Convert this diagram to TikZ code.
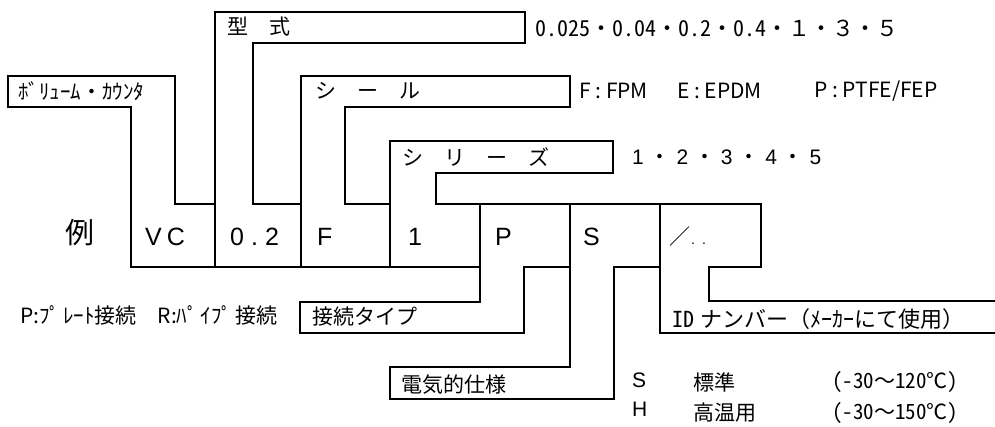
\documentclass[tikz,border=0pt]{standalone}
\usepackage{fontspec}
\setmainfont{Noto Sans CJK JP}
\newfontfamily\jpf{Noto Sans CJK JP}
\newfontfamily\jph[CharacterWidth=Half]{Noto Sans CJK JP}
\newfontfamily\hvf{Liberation Sans}
\newcommand\md{{\jpf ・}}
\begin{document}
\begin{tikzpicture}[x=1pt,y=-1pt,
  ln/.style={line width=2.8pt,line join=miter,line cap=rect},
  jt/.style={anchor=west,inner sep=0pt,font=\jpf\fontsize{21}{21}\selectfont},
  ht/.style={anchor=west,inner sep=0pt,font=\hvf\fontsize{21}{21}\selectfont},
  ct/.style={anchor=west,inner sep=0pt,font=\hvf\fontsize{25}{25}\selectfont}]
\useasboundingbox (0,0) rectangle (995,426);
% frames
\draw[ln] (131,267) -- (131,107) -- (8,107) -- (8,76) -- (175,76) -- (175,204) -- (215,204);
\draw[ln] (215,267) -- (215,12) -- (525,12) -- (525,43) -- (253,43) -- (253,204) -- (301,204);
\draw[ln] (301,267) -- (301,76) -- (570,76) -- (570,107) -- (345,107) -- (345,204) -- (390,204);
\draw[ln] (390,267) -- (390,141) -- (613,141) -- (613,173) -- (436,173) -- (436,204) -- (761,204) -- (761,267) -- (709,267) -- (709,301) -- (995,301);
\draw[ln] (131,267) -- (480,267);
\draw[ln] (480,204) -- (480,302) -- (300,302) -- (300,333) -- (524,333) -- (524,267) -- (570,267);
\draw[ln] (570,204) -- (570,367) -- (390,367) -- (390,399) -- (614,399) -- (614,267) -- (660,267);
\draw[ln] (660,204) -- (660,333) -- (995,333);
% labels
\node[jt] (vol) at (18,91) {ﾎﾞﾘｭｰﾑ・ｶｳﾝﾀ};
\node[jt] (kata) at (227,27) {型　式};
\node[jt,font=\jpf\fontsize{22}{22}\selectfont] (katav) at (535,28) {{\jph 0.025}・{\jph 0.04}・{\jph 0.2}・{\jph 0.4}・１・３・５};
\node[jt] (seal) at (315,91) {シ　ー　ル};
\node[jt] (sealf) at (579,91) {F : FPM};
\node[jt] (seale) at (677,91) {E : EPDM};
\node[jt] (sealp) at (814,91) {P : PTFE/FEP};
\node[jt] (ser) at (402,157) {シ　リ　ー　ズ};
\node[ht] (serv) at (632,157) {1 \md{} 2 \md{} 3 \md{} 4 \md{} 5};
\node[jt,font=\jpf\fontsize{29}{29}\selectfont] (ex) at (65,233) {例};
\node[ct] (cvc) at (145,237) {V\hspace{5pt}C};
\node[ct] (c02) at (230,237) {0\hspace{7pt}.\hspace{7pt}2};
\node[ct] (cf) at (317,237) {F};
\node[ct] (c1) at (408,237) {1};
\node[ct] (cp) at (495,237) {P};
\node[ct] (cs) at (583,237) {S};
\node[ct] (csl) at (669,237) {{\jpf\fontsize{21}{21}\selectfont ／}\hspace{1pt}{\fontsize{14}{14}\selectfont .\hspace{7pt}.}};
\node[jt] (ptype) at (20,315) {P:ﾌﾟ\hspace{3pt}ﾚｰﾄ接続　R:ﾊﾟ\hspace{3pt}ｲﾌﾟ\hspace{3pt}接続};
\node[jt] (conn) at (312,317) {接続タイプ};
\node[jt] (elec) at (401,385) {電気的仕様};
\node[jt,font=\jpf\fontsize{22}{22}\selectfont] (idl) at (672,319) {{\jph ID}\hspace{6pt}ナンバー（ﾒｰｶｰにて使用）};
\node[ht] (ss) at (632,380) {S};
\node[ht] (sh) at (632,409) {H};
\node[jt] (std) at (693,382) {標準};
\node[jt] (hot) at (693,413) {高温用};
\node[jt] (r1) at (832,382) {{\jph (-30}～{\jph 120}℃{\jph )}};
\node[jt] (r2) at (832,413) {{\jph (-30}～{\jph 150}℃{\jph )}};
\end{tikzpicture}
\end{document}
